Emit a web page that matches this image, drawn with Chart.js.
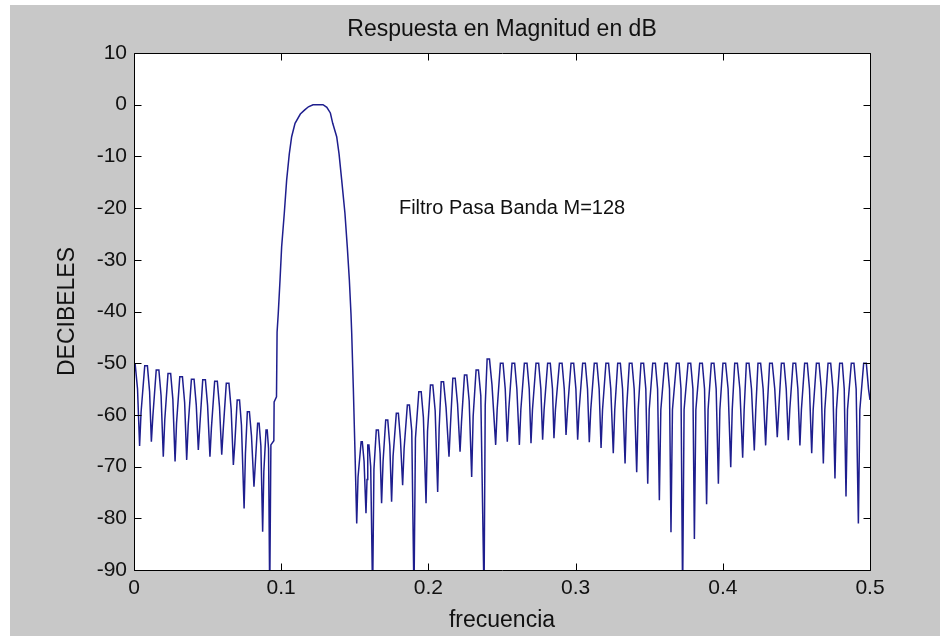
<!DOCTYPE html>
<html>
<head>
<meta charset="utf-8">
<script src="https://cdn.jsdelivr.net/npm/chart.js@4.4.1/dist/chart.umd.min.js"></script>
<style>
html, body { margin: 0; padding: 0; background: #fff; }
canvas { display: block; }
</style>
</head>
<body>
<canvas id="chart" width="950" height="641"></canvas>
<script>
// magnitude response (frecuencia vs dB)
// left stopband lobes
var freqLeft = [
    0.0000, 0.0008, 0.0024, 0.0038, 0.0048,
    0.0073, 0.0091, 0.0106, 0.0118, 0.0128,
    0.0151, 0.0169, 0.0184, 0.0199, 0.0209,
    0.0231, 0.0249, 0.0264, 0.0279, 0.0289,
    0.0311, 0.0329, 0.0344, 0.0358, 0.0368,
    0.0390, 0.0408, 0.0423, 0.0437, 0.0447,
    0.0467, 0.0485, 0.0500, 0.0516, 0.0526,
    0.0548, 0.0566, 0.0581, 0.0596, 0.0606,
    0.0627, 0.0645, 0.0660, 0.0675, 0.0685,
    0.0701, 0.0717, 0.0730, 0.0748, 0.0757,
    0.0770, 0.0784, 0.0798, 0.0815, 0.0824,
    0.0840, 0.0850, 0.0862, 0.0874, 0.0882,
    0.0897, 0.0905, 0.0914, 0.0922
]
var dbLeft = [
    -50.2, -50.2, -55.0, -66.0, -59.5,
    -50.5, -50.5, -55.5, -65.2, -60.3,
    -51.3, -51.3, -56.3, -68.1, -61.0,
    -52.0, -52.0, -57.0, -69.0, -61.6,
    -52.6, -52.6, -57.6, -68.7, -62.1,
    -53.1, -53.1, -58.1, -66.8, -62.2,
    -53.2, -53.2, -58.2, -68.1, -62.5,
    -53.5, -53.5, -58.5, -67.7, -62.9,
    -53.9, -53.9, -58.9, -69.7, -65.5,
    -57.1, -57.1, -62.0, -78.1, -67.5,
    -59.4, -59.4, -64.0, -73.9, -69.5,
    -61.6, -61.6, -66.0, -82.6, -71.0,
    -62.9, -62.9, -66.5, -95
]

// pass band (main lobe)
var freqMain = [
    0.0930, 0.0950, 0.0952, 0.0968, 0.0972, 0.0980, 0.0992, 0.1003,
    0.1021, 0.1037, 0.1055, 0.1071, 0.1094, 0.1130, 0.1160, 0.1185,
    0.1216, 0.1284, 0.1310, 0.1334, 0.1350, 0.1377, 0.1393, 0.1411,
    0.1433, 0.1449, 0.1463, 0.1474, 0.1479, 0.1490, 0.1501, 0.1513,
    0.1522
]
var dbMain = [
    -65.8, -65.0, -57.5, -56.5, -44.0, -40.4, -33.9, -27.5,
    -21.0, -14.6, -9.5, -6.2, -3.6, -1.8, -1.0, -0.4,
    0.0, 0.0, -0.5, -1.6, -3.6, -6.2, -9.5, -14.6,
    -21.0, -27.5, -33.9, -40.4, -44.2, -54.8, -66.8, -81.0,
    -72.0
]

// right stopband lobes
var freqRight = [
    0.1543, 0.1551, 0.1563, 0.1576, 0.1583,
    0.1588, 0.1596, 0.1608, 0.1621, 0.1630,
    0.1646, 0.1660, 0.1672, 0.1682, 0.1692,
    0.1710, 0.1724, 0.1738, 0.1750, 0.1760,
    0.1782, 0.1796, 0.1810, 0.1825, 0.1835,
    0.1857, 0.1871, 0.1887, 0.1902, 0.1912,
    0.1935, 0.1951, 0.1966, 0.1984, 0.1994,
    0.2014, 0.2030, 0.2046, 0.2063, 0.2073,
    0.2087, 0.2103, 0.2120, 0.2140, 0.2150,
    0.2166, 0.2182, 0.2198, 0.2215, 0.2225,
    0.2245, 0.2261, 0.2277, 0.2294, 0.2304,
    0.2324, 0.2340, 0.2356, 0.2378, 0.2386,
    0.2399, 0.2415, 0.2432, 0.2457, 0.2467,
    0.2489, 0.2507, 0.2522, 0.2536, 0.2546,
    0.2568, 0.2586, 0.2601, 0.2618, 0.2628,
    0.2652, 0.2670, 0.2685, 0.2697, 0.2707,
    0.2731, 0.2749, 0.2764, 0.2776, 0.2786,
    0.2810, 0.2828, 0.2843, 0.2853, 0.2863,
    0.2890, 0.2908, 0.2923, 0.2935, 0.2945,
    0.2969, 0.2987, 0.3002, 0.3014, 0.3024,
    0.3048, 0.3066, 0.3081, 0.3093, 0.3103,
    0.3127, 0.3145, 0.3160, 0.3173, 0.3183,
    0.3206, 0.3224, 0.3239, 0.3256, 0.3266,
    0.3286, 0.3304, 0.3319, 0.3336, 0.3346,
    0.3365, 0.3383, 0.3398, 0.3415, 0.3425,
    0.3444, 0.3462, 0.3477, 0.3490, 0.3500,
    0.3524, 0.3542, 0.3557, 0.3569, 0.3579,
    0.3605, 0.3623, 0.3638, 0.3648, 0.3658,
    0.3685, 0.3703, 0.3716, 0.3727, 0.3737,
    0.3764, 0.3782, 0.3797, 0.3807, 0.3817,
    0.3843, 0.3861, 0.3876, 0.3890, 0.3900,
    0.3922, 0.3940, 0.3955, 0.3970, 0.3980,
    0.4001, 0.4019, 0.4036, 0.4054, 0.4064,
    0.4081, 0.4099, 0.4116, 0.4135, 0.4145,
    0.4160, 0.4178, 0.4195, 0.4214, 0.4224,
    0.4239, 0.4257, 0.4274, 0.4291, 0.4301,
    0.4318, 0.4336, 0.4353, 0.4370, 0.4380,
    0.4398, 0.4416, 0.4431, 0.4445, 0.4455,
    0.4477, 0.4495, 0.4510, 0.4524, 0.4534,
    0.4556, 0.4574, 0.4589, 0.4604, 0.4614,
    0.4636, 0.4654, 0.4669, 0.4683, 0.4693,
    0.4715, 0.4733, 0.4748, 0.4762, 0.4772,
    0.4794, 0.4812, 0.4825, 0.4837, 0.4847,
    0.4873, 0.4891, 0.4906, 0.4921, 0.4931,
    0.4957, 0.4975, 0.4990, 0.5000
]
var dbRight = [
    -65.2, -65.2, -69.0, -79.0, -72.5,
    -65.8, -65.8, -70.0, -95, -70.5,
    -62.9, -62.9, -67.5, -77.1, -69.0,
    -61.0, -61.0, -66.0, -76.8, -68.0,
    -59.7, -59.7, -64.7, -73.6, -66.5,
    -58.1, -58.1, -63.1, -95, -64.5,
    -55.5, -55.5, -60.5, -77.1, -63.2,
    -54.2, -54.2, -59.2, -74.9, -62.6,
    -53.6, -53.6, -58.6, -68.1, -61.9,
    -52.9, -52.9, -57.9, -67.1, -61.3,
    -52.3, -52.3, -57.3, -72.0, -60.3,
    -51.3, -51.3, -56.3, -95, -58.2,
    -49.2, -49.2, -54.2, -65.8, -59.0,
    -50, -50, -55, -65.2, -59,
    -50, -50, -55, -65.8, -59,
    -50, -50, -55, -65.5, -59,
    -50, -50, -55, -64.8, -59,
    -50, -50, -55, -64.5, -59,
    -50, -50, -55, -63.9, -59,
    -50, -50, -55, -64.8, -59,
    -50, -50, -55, -65.3, -59,
    -50, -50, -55, -66.4, -59,
    -50, -50, -55, -67.4, -59,
    -50, -50, -55, -69.4, -59,
    -50, -50, -55, -71.1, -59,
    -50, -50, -55, -73.3, -59,
    -50, -50, -55, -76.5, -59,
    -50, -50, -55, -82.7, -59,
    -50, -50, -55, -95, -59,
    -50, -50, -55, -84.0, -59,
    -50, -50, -55, -77.3, -59,
    -50, -50, -55, -73.3, -59,
    -50, -50, -55, -70.1, -59,
    -50, -50, -55, -68.3, -59,
    -50, -50, -55, -66.9, -59,
    -50, -50, -55, -65.9, -59,
    -50, -50, -55, -64.3, -59,
    -50, -50, -55, -64.9, -59,
    -50, -50, -55, -65.9, -59,
    -50, -50, -55, -67.4, -59,
    -50, -50, -55, -69.4, -59,
    -50, -50, -55, -72.3, -59,
    -50, -50, -55, -75.8, -59,
    -50, -50, -55, -81.0, -59,
    -50, -50, -55, -57.1
]

var xTicks = [0, 0.1, 0.2, 0.3, 0.4, 0.5]
var yTicks = [10, 0, -10, -20, -30, -40, -50, -60, -70, -80, -90]

var titulo = 'Respuesta en Magnitud en dB'
var xLabel = 'frecuencia'
var yLabel = 'DECIBELES'
var nota = 'Filtro Pasa Banda M=128'
var notaPos = [0.18, -20]

var fontName = '"Liberation Sans", Arial, sans-serif'

function toPoints(freq, db) {
    var pts = []
    for (var i = 0; i < freq.length; i++) {
        pts.push({ x: freq[i], y: db[i] })
    }
    return pts
}

var curve = toPoints(freqLeft, dbLeft)
    .concat(toPoints(freqMain, dbMain))
    .concat(toPoints(freqRight, dbRight))

var matlabFrame = {
    id: 'matlabFrame',
    beforeDraw: function (chart) {
        var ctx = chart.ctx
        var a = chart.chartArea
        ctx.save()
        ctx.fillStyle = '#ffffff'
        ctx.fillRect(0, 0, chart.width, chart.height)
        ctx.fillStyle = '#c8c8c8'
        ctx.fillRect(10, 5, 930, 631)
        ctx.fillStyle = '#ffffff'
        ctx.fillRect(a.left, a.top, a.right - a.left, a.bottom - a.top)
        ctx.restore()
    },
    afterDraw: function (chart) {
        var ctx = chart.ctx
        var a = chart.chartArea
        var xs = chart.scales.x
        var ys = chart.scales.y
        var L = Math.round(a.left) + 0.5
        var R = Math.round(a.right) + 0.5
        var T = Math.round(a.top) + 0.5
        var B = Math.round(a.bottom) + 0.5
        var tl = 7

        ctx.save()
        ctx.strokeStyle = '#000'
        ctx.lineWidth = 1
        ctx.beginPath()
        ctx.rect(L, T, R - L, B - T)
        // inward ticks on all four sides
        xTicks.forEach(function (v) {
            var px = Math.round(xs.getPixelForValue(v)) + 0.5
            ctx.moveTo(px, B); ctx.lineTo(px, B - tl)
            ctx.moveTo(px, T); ctx.lineTo(px, T + tl)
        })
        yTicks.forEach(function (v) {
            var py = Math.round(ys.getPixelForValue(v)) + 0.5
            ctx.moveTo(L, py); ctx.lineTo(L + tl, py)
            ctx.moveTo(R, py); ctx.lineTo(R - tl, py)
        })
        ctx.stroke()

        ctx.fillStyle = '#111'
        ctx.textAlign = 'center'
        ctx.textBaseline = 'middle'
        var cx = (a.left + a.right) / 2
        ctx.font = '23px ' + fontName
        ctx.fillText(titulo, cx, 30)
        ctx.fillText(xLabel, cx, 621)

        ctx.save()
        ctx.translate(68, (a.top + a.bottom) / 2)
        ctx.rotate(-Math.PI / 2)
        ctx.fillText(yLabel, 0, 0)
        ctx.restore()

        ctx.font = '20px ' + fontName
        ctx.textAlign = 'left'
        ctx.fillText(nota, xs.getPixelForValue(notaPos[0]), ys.getPixelForValue(notaPos[1]))
        ctx.restore()
    }
}

var ctx = document.getElementById('chart').getContext('2d')
var chart = new Chart(ctx, {
    type: 'line',
    data: {
        datasets: [{
            label: titulo,
            data: curve,
            borderColor: '#1e1e8e',
            borderWidth: 1.5,
            pointRadius: 0,
            tension: 0,
            fill: false
        }]
    },
    options: {
        responsive: false,
        animation: false,
        layout: { padding: { top: 53, right: 80, bottom: 0, left: 0 } },
        plugins: {
            legend: { display: false },
            tooltip: { enabled: false },
            title: { display: false }
        },
        scales: {
            x: {
                type: 'linear',
                min: 0,
                max: 0.5,
                grid: { display: false, drawTicks: false },
                border: { display: false },
                afterBuildTicks: function (scale) {
                    scale.ticks = xTicks.map(function (v) { return { value: v } })
                },
                afterFit: function (scale) { scale.height = 71 },
                ticks: {
                    autoSkip: false,
                    maxRotation: 0,
                    padding: 6,
                    color: '#111',
                    font: { family: fontName, size: 21 },
                    callback: function (v) { return String(Math.round(v * 10) / 10) }
                }
            },
            y: {
                type: 'linear',
                min: -90,
                max: 10,
                grid: { display: false, drawTicks: false },
                border: { display: false },
                afterBuildTicks: function (scale) {
                    scale.ticks = yTicks.map(function (v) { return { value: v } })
                },
                afterFit: function (scale) { scale.width = 134 },
                ticks: {
                    autoSkip: false,
                    padding: 7,
                    color: '#111',
                    font: { family: fontName, size: 21 },
                    callback: function (v) { return String(v) }
                }
            }
        }
    },
    plugins: [matlabFrame]
})
</script>
</body>
</html>
